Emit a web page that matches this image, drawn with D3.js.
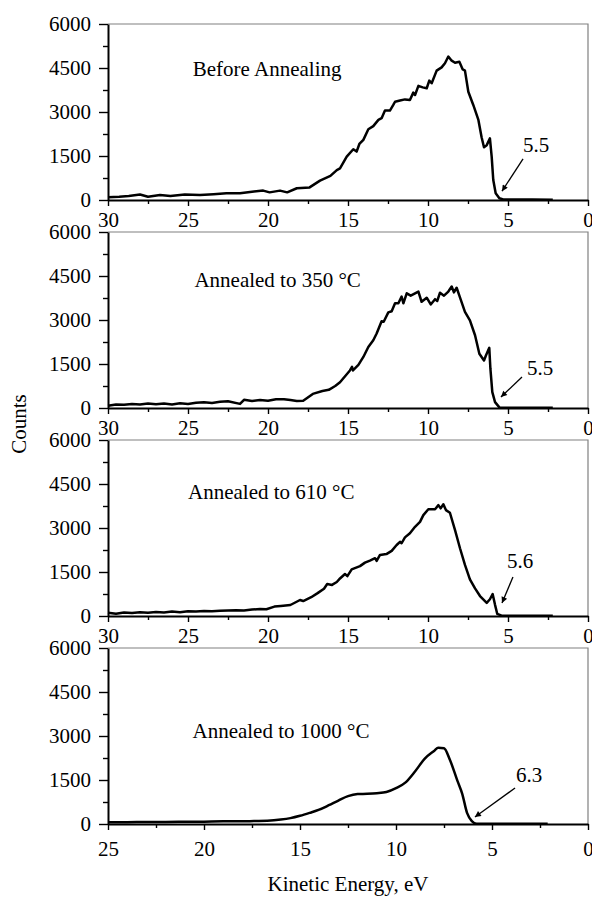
<!DOCTYPE html>
<html>
<head>
<meta charset="utf-8">
<script src="https://cdn.jsdelivr.net/npm/d3@7"></script>
<style>
  body { margin: 0; background: #fff; }
  text { font-family: "Liberation Serif", "DejaVu Serif", serif; }
</style>
</head>
<body>
<div id="chart"></div>
<script>
// spectra: [kinetic energy (eV), counts]
const beforeAnnealing = [[30,90],[29.3,110],[28.7,135],[28,190],[27.5,110],[26.75,170],[26.1,135],[25.2,190],[24.25,170],[23.4,200],[22.6,230],[21.75,230],[21,280],[20.3,320],[19.9,260],[19.25,320],[18.8,260],[18.2,400],[17.4,430],[16.75,660],[16.1,820],[15.7,1020],[15.5,1080],[15.08,1480],[14.67,1730],[14.46,1650],[14.29,1910],[14.04,2050],[13.73,2410],[13.42,2520],[13.1,2730],[12.9,2790],[12.69,3050],[12.38,3050],[12.17,3240],[12.06,3350],[11.75,3390],[11.44,3430],[11.13,3410],[10.92,3660],[10.81,3580],[10.6,3890],[10.33,3840],[10.08,3810],[9.92,4070],[9.77,3980],[9.46,4410],[9.15,4520],[8.94,4660],[8.73,4890],[8.52,4750],[8.31,4680],[8.04,4710],[7.83,4450],[7.69,4410],[7.48,3690],[7.17,3240],[6.85,2730],[6.65,2140],[6.5,1800],[6.33,1870],[6.13,2100],[6.02,1480],[5.92,680],[5.77,230],[5.54,60],[5.3,20],[4.5,20],[3.5,15],[2.2,10]];

const annealed350 = [[30,80],[29.5,120],[29,110],[28.5,140],[28,120],[27.5,150],[27,130],[26.5,150],[26,120],[25.5,160],[25,140],[24.5,180],[24,200],[23.5,170],[23,210],[22.5,230],[21.75,140],[21.5,280],[21,240],[20.5,270],[20,250],[19.5,300],[19,300],[18.6,270],[18.2,240],[17.8,250],[17.2,480],[16.6,580],[16.2,620],[15.8,750],[15.5,880],[14.88,1280],[14.75,1400],[14.69,1280],[14.35,1470],[14.04,1740],[13.73,2080],[13.42,2310],[13.21,2540],[12.9,2960],[12.77,2940],[12.48,3260],[12.27,3300],[12.06,3570],[11.85,3570],[11.65,3800],[11.54,3570],[11.33,3910],[11.08,3830],[10.6,3970],[10.4,3620],[10.08,3760],[9.83,3530],[9.56,3710],[9.42,3650],[9.25,3930],[9,3830],[8.73,3970],[8.52,4140],[8.38,3940],[8.21,4100],[8.04,3830],[7.69,3280],[7.38,2990],[7.06,2480],[6.79,1850],[6.5,1620],[6.38,1790],[6.17,2050],[6.1,1340],[5.98,540],[5.81,200],[5.54,20],[5.3,10],[4,10],[2.2,5]];

const annealed610 = [[30,110],[29.5,80],[29,120],[28.5,100],[28,130],[27.5,110],[27,140],[26.5,120],[26,150],[25.5,130],[25,160],[24.5,150],[24,170],[23.5,160],[23,180],[22.5,190],[22,200],[21.5,190],[21,220],[20.5,240],[20.1,230],[19.6,320],[19.2,340],[18.6,375],[18,545],[17.8,510],[17.3,640],[16.9,780],[16.5,930],[16.3,1090],[16,1060],[15.7,1160],[15.5,1280],[15.19,1430],[15.04,1360],[14.77,1590],[14.25,1700],[13.94,1820],[13.63,1890],[13.31,1970],[13.21,1880],[13,2080],[12.6,2110],[12.27,2220],[11.96,2420],[11.75,2530],[11.65,2480],[11.44,2680],[11.13,2820],[10.81,3040],[10.5,3210],[10.29,3440],[9.98,3640],[9.56,3640],[9.35,3780],[9.21,3670],[9.04,3810],[8.88,3610],[8.63,3520],[8.31,2930],[8,2310],[7.69,1740],[7.38,1250],[7.06,940],[6.75,680],[6.33,450],[6.13,570],[5.96,750],[5.81,380],[5.67,70],[5.4,10],[4,10],[2.2,5]];

const annealed1000 = [[25,60],[24,60],[23,70],[22,70],[21,75],[20,80],[19,90],[18,90],[17.4,100],[16.7,110],[16,150],[15.5,200],[15,280],[14.5,380],[14,490],[13.5,640],[13,800],[12.5,950],[12,1020],[11.5,1030],[11,1050],[10.5,1090],[10,1220],[9.5,1420],[9,1800],[8.5,2230],[8,2500],[7.8,2600],[7.5,2580],[7.2,2200],[6.8,1470],[6.55,1030],[6.3,380],[6.05,100],[5.8,10],[4,12],[2.1,10]];

const panelNames = ["Before Annealing", "Annealed to 350 °C", "Annealed to 610 °C", "Annealed to 1000 °C"];
const panelData = [beforeAnnealing, annealed350, annealed610, annealed1000];
const energyMax = [30, 30, 30, 25];
const countTicks = [0, 1500, 3000, 4500, 6000];
const onsetLabels = ["5.5", "5.5", "5.6", "6.3"];

// annotation anchors, in data units (energy, counts)
const nameAt = [[24.7, 4230], [24.6, 4125], [25, 3990], [20.6, 2932]];
const arrowTip = [[5.375, 300], [5.44, 375], [5.375, 443], [5.89, 239]];
const arrowTail = [[4.06, 1400], [4.125, 1057], [4.69, 1330], [3.8, 1227]];
const onsetAt = [[4.06, 1636], [3.81, 1125], [5.06, 1636], [3.75, 1432]];

const width = 592;
const height = 897;
const left = 108, right = 588;
const plotTops = [24, 232, 440, 648];
const plotH = 176;
const fontSize = 21;
const serif = '"Liberation Serif", "DejaVu Serif", serif';

const svg = d3.select('#chart')
    .append('svg')
    .attr('width', width)
    .attr('height', height)
    .style('background', '#fff');

svg.append('defs').append('marker')
    .attr('id', 'arrowhead')
    .attr('viewBox', '0 0 10 10')
    .attr('refX', 10).attr('refY', 5)
    .attr('markerWidth', 9).attr('markerHeight', 6)
    .attr('markerUnits', 'userSpaceOnUse')
    .attr('orient', 'auto')
    .append('path')
    .attr('d', 'M0,0L10,5L0,10z')
    .attr('fill', '#000');

function styleAxis(sel) {
    sel.attr('font-family', serif).attr('font-size', fontSize);
    sel.select('.domain').attr('stroke', '#000').attr('stroke-width', 2);
    sel.selectAll('.tick line').attr('stroke', '#000').attr('stroke-width', 1.4);
    sel.selectAll('text')
        .attr('font-size', fontSize)
        .attr('fill', '#000');
}

panelData.forEach((data, i) => {
    const top = plotTops[i];
    const bottom = top + plotH;
    const xMax = energyMax[i];

    const x = d3.scaleLinear().domain([xMax, 0]).range([left, right]);
    const y = d3.scaleLinear().domain([0, 6000]).range([bottom, top]);

    const g = svg.append('g');

    // thin grey frame on top and right
    g.append('path')
        .attr('d', `M${left},${top}H${right}V${bottom}`)
        .attr('fill', 'none')
        .attr('stroke', '#808080')
        .attr('stroke-width', 1.2);

    // minor ticks first so the main axes draw over them
    const minorY = d3.range(750, 6000, 1500);
    g.append('g')
        .attr('transform', `translate(${left},0)`)
        .call(d3.axisLeft(y).tickValues(minorY).tickSize(5).tickFormat(''))
        .call(s => s.select('.domain').remove())
        .call(styleAxis);

    const minorX = d3.range(2.5, xMax, 5);
    g.append('g')
        .attr('transform', `translate(0,${bottom})`)
        .call(d3.axisBottom(x).tickValues(minorX).tickSize(4).tickFormat(''))
        .call(s => s.select('.domain').remove())
        .call(styleAxis);

    g.append('g')
        .attr('transform', `translate(${left},0)`)
        .call(d3.axisLeft(y).tickValues(countTicks).tickFormat(d3.format('d'))
            .tickSize(9).tickSizeOuter(0).tickPadding(8))
        .call(styleAxis);

    const majorX = d3.range(xMax, -1, -5);
    g.append('g')
        .attr('transform', `translate(0,${bottom})`)
        .call(d3.axisBottom(x).tickValues(majorX).tickFormat(d3.format('d'))
            .tickSize(6).tickSizeOuter(0)
            .tickPadding(i === 3 ? 11 : 6))
        .call(styleAxis);

    // spectrum
    const line = d3.line()
        .x(d => x(d[0]))
        .y(d => y(d[1]))
        .curve(i === 3 ? d3.curveMonotoneX : d3.curveLinear);

    const pts = i === 3 ? data.slice().sort((a, b) => a[0] - b[0]) : data;

    g.append('path')
        .datum(pts)
        .attr('fill', 'none')
        .attr('stroke', '#000')
        .attr('stroke-width', 2.5)
        .attr('stroke-linejoin', 'round')
        .attr('d', line);

    // panel title
    g.append('text')
        .attr('x', x(nameAt[i][0]))
        .attr('y', y(nameAt[i][1]))
        .attr('font-size', fontSize)
        .text(panelNames[i]);

    // onset arrow + value
    g.append('line')
        .attr('x1', x(arrowTail[i][0])).attr('y1', y(arrowTail[i][1]))
        .attr('x2', x(arrowTip[i][0])).attr('y2', y(arrowTip[i][1]))
        .attr('stroke', '#000')
        .attr('stroke-width', 1.3)
        .attr('marker-end', 'url(#arrowhead)');

    g.append('text')
        .attr('x', x(onsetAt[i][0]))
        .attr('y', y(onsetAt[i][1]))
        .attr('font-size', fontSize)
        .text(onsetLabels[i]);
});

// axis titles
svg.append('text')
    .attr('transform', `translate(26,${(plotTops[0] + plotTops[3] + plotH) / 2}) rotate(-90)`)
    .attr('text-anchor', 'middle')
    .attr('font-size', fontSize)
    .text('Counts');

svg.append('text')
    .attr('x', (left + right) / 2)
    .attr('y', 891)
    .attr('text-anchor', 'middle')
    .attr('font-size', fontSize)
    .text('Kinetic Energy, eV');
</script>
</body>
</html>
